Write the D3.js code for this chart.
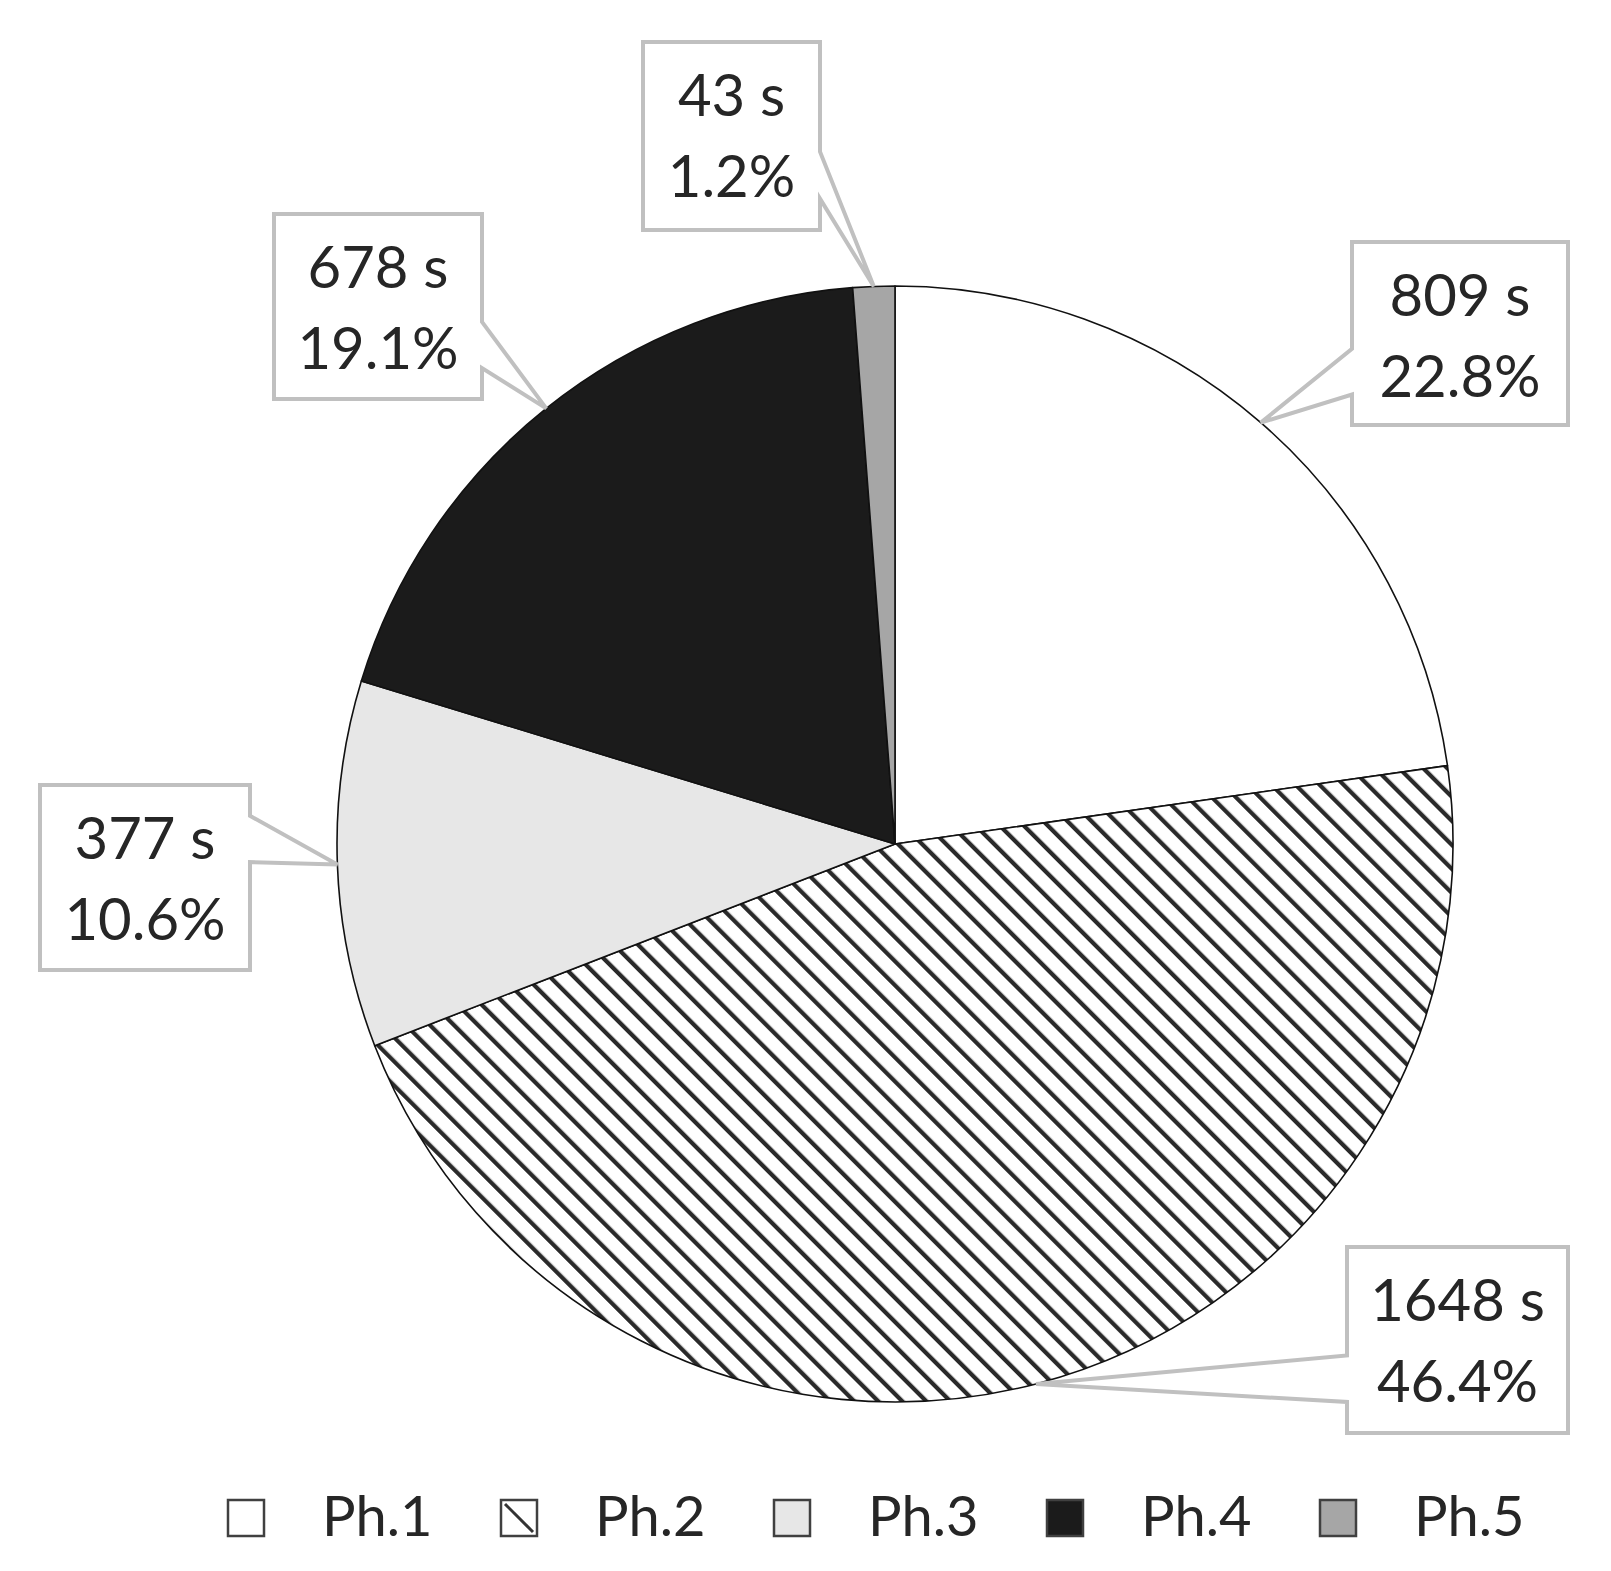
<!DOCTYPE html>
<html>
<head>
<meta charset="utf-8">
<script src="https://cdn.jsdelivr.net/npm/d3@7"></script>
<style>
  body { margin: 0; background: #fff; }
  svg { display: block; }
</style>
</head>
<body>
<svg id="chart" width="1611" height="1571"></svg>
<script>
// phase durations in seconds
var phases = ["Ph.1", "Ph.2", "Ph.3", "Ph.4", "Ph.5"];
var seconds = [809, 1648, 377, 678, 43];

// callout boxes [x, y, w, h], same order as phases
var labelBoxes = [
  [1352, 242, 216, 183],
  [1347, 1247, 221, 186],
  [40, 785, 210, 185],
  [274, 214, 208, 185],
  [643, 42, 177, 188]
];

var svg = d3.select("#chart"),
  width = +svg.attr("width"),
  height = +svg.attr("height");

var cx = 895, cy = 844, radius = 558;
var fills = ["#ffffff", "url(#hatch)", "#e7e7e7", "#1b1b1b", "#a6a6a6"];
var color = d3.scaleOrdinal().domain(phases).range(fills);

var defs = svg.append("defs");
var hatch = defs.append("pattern")
  .attr("id", "hatch")
  .attr("patternUnits", "userSpaceOnUse")
  .attr("width", 17).attr("height", 17)
  .attr("patternTransform", "rotate(-45)");
hatch.append("rect").attr("width", 17).attr("height", 17).attr("fill", "#fff");
hatch.append("line")
  .attr("x1", 2).attr("y1", 0).attr("x2", 2).attr("y2", 17)
  .attr("stroke", "#2a2a2a").attr("stroke-width", 4.5);

var total = d3.sum(seconds);
var pct = d3.format(".1%");
var data = phases.map(function(p, i) { return { name: p, value: seconds[i], box: labelBoxes[i] }; });

var pie = d3.pie().sort(null).value(function(d) { return d.value; });
var arc = d3.arc().innerRadius(0).outerRadius(radius);
var arcs = pie(data);

var g = svg.append("g").attr("transform", "translate(" + cx + "," + cy + ")");

g.selectAll("path.slice")
  .data(arcs)
  .enter().append("path")
  .attr("class", "slice")
  .attr("d", arc)
  .attr("fill", function(d) { return color(d.data.name); })
  .attr("stroke", "#111")
  .attr("stroke-width", 1.6)
  .attr("stroke-linejoin", "round");

// Excel style wedge callout
function calloutPath(x0, y0, w, h, tx, ty) {
  var hc = x0 + w / 2, vc = y0 + h / 2;
  var dx = tx - hc, dy = ty - vc;
  var dq = dx * h / w;
  var p = d3.path();
  if (Math.abs(dy) > Math.abs(dq)) {
    var xa = x0 + w * (dx > 0 ? 7 : 2) / 12, xb = x0 + w * (dx > 0 ? 10 : 5) / 12;
    if (dy > 0) {
      p.moveTo(x0, y0); p.lineTo(x0 + w, y0); p.lineTo(x0 + w, y0 + h);
      p.lineTo(xb, y0 + h); p.lineTo(tx, ty); p.lineTo(xa, y0 + h); p.lineTo(x0, y0 + h);
    } else {
      p.moveTo(x0, y0); p.lineTo(xa, y0); p.lineTo(tx, ty); p.lineTo(xb, y0);
      p.lineTo(x0 + w, y0); p.lineTo(x0 + w, y0 + h); p.lineTo(x0, y0 + h);
    }
  } else {
    var ya = y0 + h * (dy > 0 ? 7 : 2) / 12, yb = y0 + h * (dy > 0 ? 10 : 5) / 12;
    if (dx > 0) {
      p.moveTo(x0, y0); p.lineTo(x0 + w, y0); p.lineTo(x0 + w, ya); p.lineTo(tx, ty);
      p.lineTo(x0 + w, yb); p.lineTo(x0 + w, y0 + h); p.lineTo(x0, y0 + h);
    } else {
      p.moveTo(x0, y0); p.lineTo(x0 + w, y0); p.lineTo(x0 + w, y0 + h); p.lineTo(x0, y0 + h);
      p.lineTo(x0, yb); p.lineTo(tx, ty); p.lineTo(x0, ya);
    }
  }
  p.closePath();
  return p.toString();
}

var labels = svg.append("g").attr("class", "labels")
  .selectAll("g")
  .data(arcs)
  .enter().append("g");

labels.append("path")
  .attr("d", function(d) {
    var a = (d.startAngle + d.endAngle) / 2;
    var tx = cx + radius * Math.sin(a), ty = cy - radius * Math.cos(a);
    var b = d.data.box;
    return calloutPath(b[0], b[1], b[2], b[3], tx, ty);
  })
  .attr("fill", "#fff")
  .attr("stroke", "#c0c0c0")
  .attr("stroke-width", 4)
  .attr("stroke-linejoin", "miter");

labels.append("text")
  .attr("x", function(d) { return d.data.box[0] + d.data.box[2] / 2; })
  .attr("y", function(d) { return d.data.box[1] + 74; })
  .attr("text-anchor", "middle")
  .style("font-family", "Lato, 'Open Sans', sans-serif")
  .style("font-size", "58px")
  .style("fill", "#262626")
  .text(function(d) { return d.data.value + " s"; });

labels.append("text")
  .attr("x", function(d) { return d.data.box[0] + d.data.box[2] / 2; })
  .attr("y", function(d) { return d.data.box[1] + 155; })
  .attr("text-anchor", "middle")
  .style("font-family", "Lato, 'Open Sans', sans-serif")
  .style("font-size", "58px")
  .style("fill", "#262626")
  .text(function(d) { return pct(d.data.value / total); });

// legend
var legendX = d3.scaleLinear().domain([0, phases.length - 1]).range([228, 1320]);
var legend = svg.append("g").attr("class", "legend")
  .selectAll("g")
  .data(phases)
  .enter().append("g")
  .attr("transform", function(d, i) { return "translate(" + legendX(i) + ",1500)"; });

legend.append("rect")
  .attr("width", 36).attr("height", 36)
  .attr("fill", function(d) { return color(d) === "url(#hatch)" ? "#fff" : color(d); })
  .attr("stroke", "#404040")
  .attr("stroke-width", 2.5);

legend.filter(function(d) { return color(d) === "url(#hatch)"; })
  .append("line")
  .attr("x1", 4).attr("y1", 4).attr("x2", 32).attr("y2", 32)
  .attr("stroke", "#333").attr("stroke-width", 3);

legend.append("text")
  .attr("x", 94)
  .attr("y", 36)
  .style("font-family", "Lato, 'Open Sans', sans-serif")
  .style("font-size", "56px")
  .style("fill", "#262626")
  .text(function(d) { return d; });
</script>
</body>
</html>
